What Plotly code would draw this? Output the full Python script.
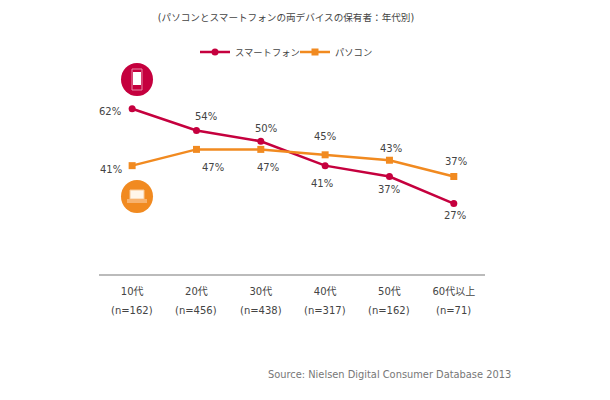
import plotly.graph_objects as go

ages = ["10代", "20代", "30代", "40代", "50代", "60代以上"]
sample_sizes = ["(n=162)", "(n=456)", "(n=438)", "(n=317)", "(n=162)", "(n=71)"]
smartphone = [62, 54, 50, 41, 37, 27]
pc = [41, 47, 47, 45, 43, 37]
smartphone_shifts = [(-22, -3), (10, 14), (5, 12.5), (-3, -18), (0, -13), (1, -12)]
pc_shifts = [(-21, -4), (17, -18), (7, -18), (0, 18), (2, 12), (2, 15)]

RED = "#C5003E"
ORANGE = "#F18A20"
FONT = "DejaVu Sans, Noto Sans CJK JP, sans-serif"
TXT = "#444444"
L, T, R, B = 99, 60, 485, 274


def px(x):
    return (x - L) / (R - L)


def py(y):
    return (B - y) / (B - T)


fig = go.Figure()
fig.add_trace(go.Scatter(x=ages, y=smartphone, name="スマートフォン", mode="lines+markers",
                         line=dict(color=RED, width=2.5), marker=dict(symbol="circle", size=7, color=RED)))
fig.add_trace(go.Scatter(x=ages, y=pc, name="パソコン", mode="lines+markers",
                         line=dict(color=ORANGE, width=2.5), marker=dict(symbol="square", size=7, color=ORANGE)))

ann = []
for series, shifts in ((smartphone, smartphone_shifts), (pc, pc_shifts)):
    for a, v, (dx, dy) in zip(ages, series, shifts):
        ann.append(dict(x=a, y=v, xref="x", yref="y", text=f"{v}%", showarrow=False,
                        xshift=dx, yshift=dy, font=dict(size=10, color=TXT, family=FONT)))
for a, n in zip(ages, sample_sizes):
    ann.append(dict(x=a, y=0, xref="x", yref="paper", text=n, showarrow=False, yanchor="middle",
                    yshift=-36, font=dict(size=10, color=TXT, family=FONT)))
ann.append(dict(x=px(513), y=py(374), xref="paper", yref="paper", xanchor="right", yanchor="middle",
                text="Source: Nielsen Digital Consumer Database 2013", showarrow=False,
                font=dict(size=9.85, color="#777777", family=FONT)))


def box(t, x0, y0, x1, y1, **kw):
    return dict(type=t, xref="paper", yref="paper", x0=px(x0), x1=px(x1), y0=py(y0), y1=py(y1), **kw)


shapes = [
    box("circle", 121, 63, 153, 96, fillcolor=RED, line_width=0),
    box("rect", 132, 69, 142, 90, fillcolor="rgba(0,0,0,0)", line=dict(color="#E88AA8", width=1)),
    box("rect", 133, 72, 141, 85, fillcolor="white", line_width=0),
    box("circle", 121, 180, 153, 213, fillcolor=ORANGE, line_width=0),
    box("rect", 130, 190, 144, 199, fillcolor="#FFF6EA", line=dict(color="#F9C894", width=1)),
    box("rect", 127, 199, 147, 203, fillcolor="#F7B26E", line_width=0),
]

fig.update_layout(
    width=610, height=400, margin=dict(l=L, r=610 - R, t=T, b=400 - B, autoexpand=False),
    paper_bgcolor="white", plot_bgcolor="white", font=dict(family=FONT, size=10, color=TXT),
    title=dict(text="(パソコンとスマートフォンの両デバイスの保有者：年代別)", x=286/610, xanchor="center",
               y=1-18/400, yanchor="middle", font=dict(size=9.6, color="#444444", family=FONT)),
    legend=dict(orientation="h", x=px(195), xanchor="left", y=py(52), yanchor="middle",
                font=dict(size=9.3, color=TXT), itemwidth=30, entrywidth=55, entrywidthmode="pixels",
                bgcolor="rgba(0,0,0,0)"),
    xaxis=dict(type="category", range=[-0.515, 5.485], showgrid=False, ticks="outside", ticklen=7,
               tickcolor="rgba(0,0,0,0)", showline=True, linecolor="#BBBBBB", linewidth=2,
               tickfont=dict(size=10, color=TXT), zeroline=False),
    yaxis=dict(range=[1, 80], visible=False, showgrid=False, zeroline=False),
    annotations=ann, shapes=shapes,
)
fig.write_html("out.html", config={"displayModeBar": False},
               post_script="document.body.style.margin='0';")
